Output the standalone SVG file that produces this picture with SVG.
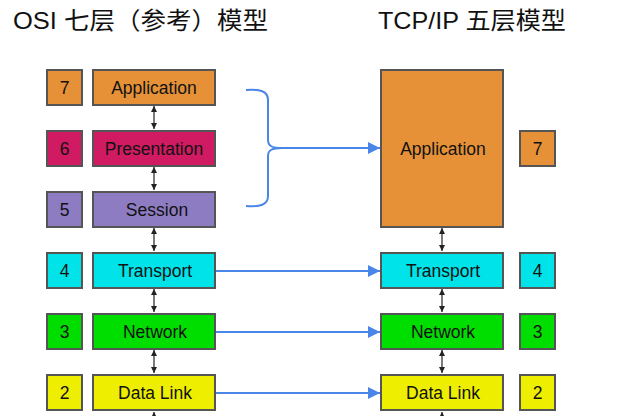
<svg xmlns="http://www.w3.org/2000/svg" width="629" height="416" viewBox="0 0 629 416">
<style>
.box{stroke:#555555;stroke-width:2}
.t{font-family:"Liberation Sans",Arial,sans-serif;font-size:17.5px;fill:#111;text-anchor:middle;dominant-baseline:central}
.title{font-family:"Liberation Sans","Noto Sans CJK SC",sans-serif;font-size:24px;fill:#111}
.o{fill:#e69138}.m{fill:#d01b62}.p{fill:#8e7cc3}.c{fill:#00e3e8}.g{fill:#00de00}.y{fill:#eeee00}
.v{stroke:#222;stroke-width:1.2;fill:none;marker-start:url(#ah);marker-end:url(#ah)}
.b{stroke:#4a86e8;stroke-width:2;fill:none}
.ba{stroke:#4a86e8;stroke-width:2;fill:none;marker-end:url(#bh)}
</style>
<defs>
<marker id="ah" viewBox="0 0 10 10" refX="10" refY="5" markerWidth="6" markerHeight="6" orient="auto-start-reverse" markerUnits="userSpaceOnUse"><path d="M0,0 L10,5 L0,10 Z" fill="#222"/></marker>
<marker id="bh" viewBox="0 0 10 10" refX="10" refY="5" markerWidth="14" markerHeight="12" orient="auto" markerUnits="userSpaceOnUse"><path d="M0,0 L10,5 L0,10 Z" fill="#4a86e8"/></marker>
</defs>
<rect width="629" height="416" fill="#ffffff"/>
<text class="title" x="13" y="29" textLength="255" lengthAdjust="spacingAndGlyphs">OSI 七层（参考）模型</text>
<text class="title" x="378" y="29" textLength="188" lengthAdjust="spacingAndGlyphs">TCP/IP 五层模型</text>

<g id="connectors">
<line class="v" x1="154" y1="106" x2="154" y2="129"/>
<line class="v" x1="154" y1="167" x2="154" y2="190"/>
<line class="v" x1="154" y1="228" x2="154" y2="251"/>
<line class="v" x1="154" y1="289" x2="154" y2="312"/>
<line class="v" x1="154" y1="350" x2="154" y2="373"/>
<line x1="154" y1="412" x2="154" y2="420" stroke="#222" stroke-width="1.2" marker-start="url(#ah)"/>
<line class="v" x1="442" y1="228" x2="442" y2="251"/>
<line class="v" x1="442" y1="289" x2="442" y2="312"/>
<line class="v" x1="442" y1="350" x2="442" y2="373"/>
<line x1="442" y1="412" x2="442" y2="420" stroke="#222" stroke-width="1.2" marker-start="url(#ah)"/>
<path class="b" d="M246,90 C260,89 268,91 268,100 L268,140 C268,146 272,148 282,148 C272,148 268,150 268,156 L268,196 C268,205 260,207 246,206"/>
<line class="ba" x1="282" y1="148" x2="380" y2="148"/>
<line class="ba" x1="216" y1="271" x2="380" y2="271"/>
<line class="ba" x1="216" y1="332" x2="380" y2="332"/>
<line class="ba" x1="216" y1="393" x2="380" y2="393"/>
</g>

<g id="osi-7"><rect class="box o" x="47" y="70" width="35" height="35"/><text class="t" x="64.5" y="88">7</text></g>
<g id="osi-application"><rect class="box o" x="93" y="70" width="122" height="35"/><text class="t" x="154" y="88">Application</text></g>
<g id="osi-6"><rect class="box m" x="47" y="131" width="35" height="35"/><text class="t" x="64.5" y="149">6</text></g>
<g id="osi-presentation"><rect class="box m" x="93" y="131" width="122" height="35"/><text class="t" x="154" y="149">Presentation</text></g>
<g id="osi-5"><rect class="box p" x="47" y="192" width="35" height="35"/><text class="t" x="64.5" y="210">5</text></g>
<g id="osi-session"><rect class="box p" x="93" y="192" width="122" height="35"/><text class="t" x="157" y="210">Session</text></g>
<g id="osi-4"><rect class="box c" x="47" y="253" width="35" height="35"/><text class="t" x="64.5" y="271">4</text></g>
<g id="osi-transport"><rect class="box c" x="93" y="253" width="122" height="35"/><text class="t" x="155" y="271">Transport</text></g>
<g id="osi-3"><rect class="box g" x="47" y="314" width="35" height="35"/><text class="t" x="64.5" y="332">3</text></g>
<g id="osi-network"><rect class="box g" x="93" y="314" width="122" height="35"/><text class="t" x="155" y="332">Network</text></g>
<g id="osi-2"><rect class="box y" x="47" y="375" width="35" height="35"/><text class="t" x="64.5" y="393">2</text></g>
<g id="osi-datalink"><rect class="box y" x="93" y="375" width="122" height="35"/><text class="t" x="155" y="393">Data Link</text></g>

<g id="tcp-application"><rect class="box o" x="381" y="70" width="122" height="157"/><text class="t" x="443" y="149">Application</text></g>
<g id="tcp-7"><rect class="box o" x="520" y="131" width="35" height="35"/><text class="t" x="537.5" y="149">7</text></g>
<g id="tcp-transport"><rect class="box c" x="381" y="253" width="122" height="35"/><text class="t" x="443" y="271">Transport</text></g>
<g id="tcp-4"><rect class="box c" x="520" y="253" width="35" height="35"/><text class="t" x="537.5" y="271">4</text></g>
<g id="tcp-network"><rect class="box g" x="381" y="314" width="122" height="35"/><text class="t" x="443" y="332">Network</text></g>
<g id="tcp-3"><rect class="box g" x="520" y="314" width="35" height="35"/><text class="t" x="537.5" y="332">3</text></g>
<g id="tcp-datalink"><rect class="box y" x="381" y="375" width="122" height="35"/><text class="t" x="443" y="393">Data Link</text></g>
<g id="tcp-2"><rect class="box y" x="520" y="375" width="35" height="35"/><text class="t" x="537.5" y="393">2</text></g>
</svg>
